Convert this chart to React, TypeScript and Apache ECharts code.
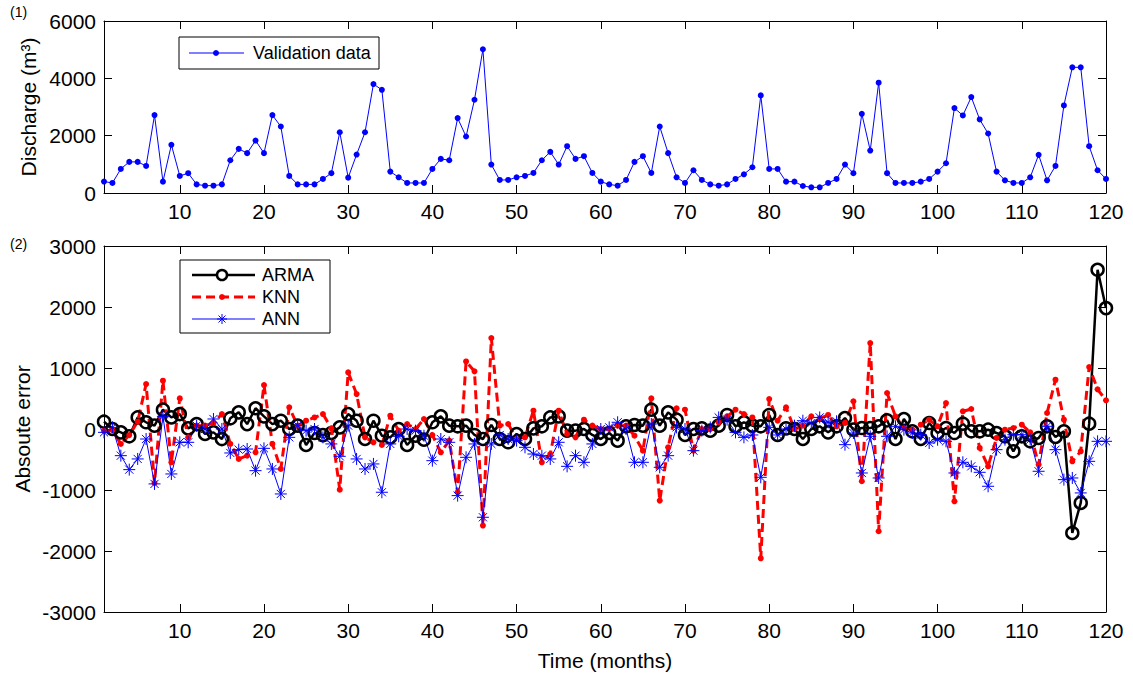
import React, { useEffect, useRef } from "react";
import * as echarts from "echarts";

const FONT = "'Liberation Sans', Arial, Helvetica, sans-serif";

const months: number[] = Array.from({ length: 120 }, (_, i) => i + 1);
const xTicks: number[] = [10, 20, 30, 40, 50, 60, 70, 80, 90, 100, 110, 120];

const validation: number[] = [
  400, 350, 840, 1085, 1085, 945, 2717, 396, 1680, 595,
  690, 300, 256, 256, 300, 1143, 1540, 1390, 1830, 1390,
  2717, 2320, 595, 300, 300, 300, 490, 690, 2120, 536,
  1340, 2120, 3800, 3600, 746, 548, 350, 350, 350, 840,
  1190, 1143, 2612, 1970, 3253, 5014, 991, 455, 455, 548,
  595, 700, 1143, 1434, 991, 1632, 1190, 1283, 700, 396,
  300, 256, 455, 1085, 1283, 700, 2320, 1390, 548, 350,
  793, 455, 300, 256, 300, 490, 653, 898, 3405, 840,
  840, 396, 396, 245, 198, 198, 350, 490, 991, 690,
  2763, 1480, 3848, 690, 350, 350, 350, 396, 490, 746,
  1038, 2962, 2705, 3346, 2565, 2075, 746, 443, 350, 350,
  548, 1330, 443, 945, 3055, 4384, 4384, 1632, 793, 490,
];

const arma: number[] = [
  120, 0, -55, -120, 190, 110, 55, 317, 190, 245,
  10, 80, -80, -55, -165, 175, 273, 80, 340, 207,
  80, 136, 0, 55, -262, -65, -100, -65, 27, 245,
  136, -164, 136, -110, -137, 0, -262, -110, -175, 110,
  207, 55, 44, 55, -98, -164, 66, -164, -218, -82,
  -164, 10, 44, 190, 207, -27, -27, 0, -98, -164,
  -65, -191, 44, 66, 55, 317, 55, 273, 153, -98,
  0, 10, -27, 55, 230, 44, 110, 55, 44, 230,
  -98, 10, 0, -164, 0, 44, -55, 44, 180, -11,
  16, 16, 44, 142, -164, 164, -38, -164, 98, -66,
  16, -66, 87, -38, -38, -11, -66, -120, -366, -120,
  -202, -147, 44, -131, -38, -1704, -1212, 87, 2610, 1982,
];

const knn: number[] = [
  -30, -20, -245, -100, 120, 737, -885, 792, -546, 502,
  -137, 55, 55, 98, 245, -245, -491, -437, -382, 720,
  -245, -655, 355, 55, 136, 190, 245, 10, -994, 928,
  573, -137, -218, -262, 218, -27, 82, 0, 164, -100,
  -382, -190, -1037, 1108, 945, -1583, 1490, 55, 82, -164,
  -137, 300, -546, -410, 300, -82, -137, 153, 55, 0,
  0, 55, 55, -110, -355, 502, -1174, -300, 339, 317,
  -355, 0, 0, 110, 207, 317, 245, 190, -2120, 492,
  136, 355, 0, 55, 207, 175, 230, 44, 100, 453,
  -857, 1409, -1676, 590, 207, 16, -11, 71, 153, 44,
  426, -1185, 290, 328, -311, -612, -147, -11, 16, 71,
  -55, -584, 262, 808, 153, -530, -366, 1016, 650, 470,
];

const ann: number[] = [
  -55, 27, -437, -666, -491, -164, -900, 207, -737, -218,
  -218, 55, 0, 164, 0, -393, -338, -328, -683, -317,
  -655, -1065, -137, 55, -27, 0, -137, -245, -448, 55,
  -491, -655, -573, -1037, -245, -120, 0, -27, -110, -519,
  -164, -218, -1092, -464, -245, -1447, -245, -98, -164, -191,
  -300, -410, -437, -491, -218, -612, -437, -546, -245, 0,
  27, 110, 0, -546, -546, 82, -628, -437, 27, 0,
  -355, -27, 27, 190, 153, -55, -137, -98, -792, 27,
  -98, 0, 55, 136, 98, 190, 110, 126, -257, -66,
  -721, -120, -803, -120, 44, -11, -66, -93, -229, -175,
  -202, -721, -546, -612, -710, -939, -339, -175, -93, -93,
  -175, -693, 44, -339, -830, -803, -1048, -530, -202, -202,
];

const STAR = "path://M5,0L5,10M0,5L10,5M1.6,1.6L8.4,8.4M1.6,8.4L8.4,1.6";

function pairs(vals: number[]) {
  return months.map((m, i) => [m, vals[i]]);
}

const plain = (v: number) => String(v);

function xAxes(grid: number) {
  const base = {
    gridIndex: grid,
    type: "value" as const,
    min: 1,
    max: 120,
    splitLine: { show: false },
    axisLine: { show: true, onZero: false, lineStyle: { color: "#000", width: 1 } },
    axisTick: { show: true, inside: true, length: 8, customValues: xTicks, lineStyle: { color: "#000" } },
  };
  return [
    {
      ...base,
      position: "bottom",
      axisLabel: { show: true, customValues: xTicks, formatter: plain, fontSize: 21, color: "#000", fontFamily: FONT, margin: 8 },
    },
    { ...base, position: "top", axisLabel: { show: false } },
  ];
}

function yAxes(grid: number, min: number, max: number, interval: number) {
  const base = {
    gridIndex: grid,
    type: "value" as const,
    min,
    max,
    interval,
    splitLine: { show: false },
    axisLine: { show: true, onZero: false, lineStyle: { color: "#000", width: 1 } },
    axisTick: { show: true, inside: true, length: 8, lineStyle: { color: "#000" } },
  };
  return [
    {
      ...base,
      position: "left",
      axisLabel: { show: true, formatter: plain, fontSize: 21, color: "#000", fontFamily: FONT, margin: 8 },
    },
    { ...base, position: "right", axisLabel: { show: false } },
  ];
}

function starLines(cx: number, cy: number, r: number, color: string) {
  const d = r * 0.7;
  const segs = [
    [cx - r, cy, cx + r, cy],
    [cx, cy - r, cx, cy + r],
    [cx - d, cy - d, cx + d, cy + d],
    [cx - d, cy + d, cx + d, cy - d],
  ];
  return segs.map((s) => ({
    type: "line",
    shape: { x1: s[0], y1: s[1], x2: s[2], y2: s[3] },
    style: { stroke: color, lineWidth: 1 },
    z: 101,
  }));
}

export default function App() {
  const ref = useRef<HTMLDivElement>(null);

  useEffect(() => {
    if (!ref.current) return;
    const chart = echarts.init(ref.current, null, { renderer: "svg" });
    const txt = (text: string, x: number, y: number, size: number, extra: any = {}) => ({
      type: "text",
      x,
      y,
      z: 101,
      ...extra,
      style: {
        text,
        fontSize: size,
        fontFamily: FONT,
        fill: "#000",
        align: "left",
        verticalAlign: "middle",
        ...(extra.style || {}),
      },
    });

    const option: any = {
      animation: false,
      backgroundColor: "#fff",
      grid: [
        { left: 104, top: 21, width: 1002, height: 172 },
        { left: 104, top: 246, width: 1002, height: 366 },
      ],
      xAxis: [...xAxes(0), ...xAxes(1)],
      yAxis: [...yAxes(0, 0, 6000, 2000), ...yAxes(1, -3000, 3000, 1000)],
      series: [
        {
          name: "Validation data",
          type: "line",
          xAxisIndex: 0,
          yAxisIndex: 0,
          data: pairs(validation),
          symbol: "circle",
          symbolSize: 6,
          showAllSymbol: true,
          itemStyle: { color: "#0000ff" },
          lineStyle: { color: "#0000ff", width: 1 },
          emphasis: { disabled: true },
        },
        {
          name: "ARMA",
          type: "line",
          xAxisIndex: 2,
          yAxisIndex: 2,
          data: pairs(arma),
          symbol: "circle",
          symbolSize: 12,
          showAllSymbol: true,
          itemStyle: { color: "rgba(0,0,0,0)", borderColor: "#000", borderWidth: 2.5 },
          lineStyle: { color: "#000", width: 2.5 },
          emphasis: { disabled: true },
        },
        {
          name: "KNN",
          type: "line",
          xAxisIndex: 2,
          yAxisIndex: 2,
          data: pairs(knn),
          symbol: "circle",
          symbolSize: 6,
          showAllSymbol: true,
          itemStyle: { color: "#ff0000" },
          lineStyle: { color: "#ff0000", width: 3, type: [9, 5] },
          emphasis: { disabled: true },
        },
        {
          name: "ANN",
          type: "line",
          xAxisIndex: 2,
          yAxisIndex: 2,
          data: pairs(ann),
          symbol: STAR,
          symbolSize: 12,
          showAllSymbol: true,
          itemStyle: { color: "rgba(0,0,0,0)", borderColor: "#0000ff", borderWidth: 1 },
          lineStyle: { color: "#0000ff", width: 1 },
          emphasis: { disabled: true },
        },
      ],
      graphic: [
        txt("(1)", 10, 12, 14),
        txt("(2)", 10, 244, 14),
        txt("Discharge (m³)", 28, 107, 21, {
          rotation: Math.PI / 2,
          style: { align: "center" },
        }),
        txt("Absoute error", 22, 429, 21, {
          rotation: Math.PI / 2,
          style: { align: "center" },
        }),
        txt("Time (months)", 605, 660, 21, { style: { align: "center" } }),
        // top legend
        {
          type: "rect",
          shape: { x: 179, y: 37, width: 200, height: 32 },
          style: { fill: "#fff", stroke: "#000", lineWidth: 1 },
          z: 100,
        },
        {
          type: "line",
          shape: { x1: 189, y1: 53, x2: 244, y2: 53 },
          style: { stroke: "#0000ff", lineWidth: 1 },
          z: 101,
        },
        { type: "circle", shape: { cx: 216, cy: 53, r: 3 }, style: { fill: "#0000ff" }, z: 101 },
        txt("Validation data", 253, 53, 18),
        // bottom legend
        {
          type: "rect",
          shape: { x: 180, y: 260, width: 150, height: 73 },
          style: { fill: "#fff", stroke: "#000", lineWidth: 1 },
          z: 100,
        },
        {
          type: "line",
          shape: { x1: 192, y1: 275, x2: 255, y2: 275 },
          style: { stroke: "#000", lineWidth: 2.5 },
          z: 101,
        },
        {
          type: "circle",
          shape: { cx: 222, cy: 275, r: 5 },
          style: { fill: "#fff", stroke: "#000", lineWidth: 2.5 },
          z: 102,
        },
        txt("ARMA", 262, 275, 18),
        {
          type: "line",
          shape: { x1: 192, y1: 297, x2: 255, y2: 297 },
          style: { stroke: "#ff0000", lineWidth: 3, lineDash: [9, 5] },
          z: 101,
        },
        { type: "circle", shape: { cx: 222, cy: 297, r: 3 }, style: { fill: "#ff0000" }, z: 102 },
        txt("KNN", 262, 297, 18),
        {
          type: "line",
          shape: { x1: 192, y1: 319, x2: 255, y2: 319 },
          style: { stroke: "#0000ff", lineWidth: 1 },
          z: 101,
        },
        ...starLines(222, 319, 5, "#0000ff"),
        txt("ANN", 262, 319, 18),
      ],
    };
    chart.setOption(option);
    return () => chart.dispose();
  }, []);

  return (
    <div
      ref={ref}
      style={{ position: "fixed", left: 0, top: 0, width: 1133, height: 677, background: "#fff" }}
    />
  );
}
